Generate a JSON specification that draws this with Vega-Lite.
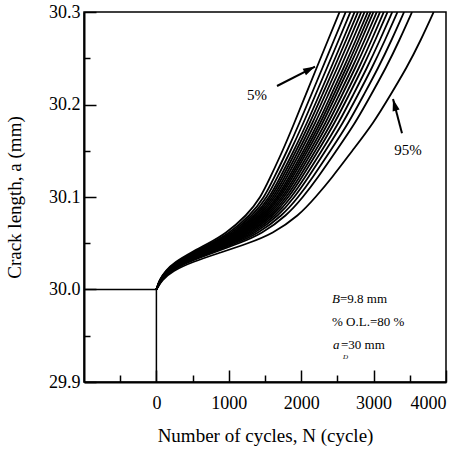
{
  "$schema": "https://vega.github.io/schema/vega-lite/v6.json",
  "width": 362,
  "height": 370,
  "autosize": "none",
  "padding": {"left": 84, "top": 12, "right": 18, "bottom": 69},
  "config": {
    "view": {"stroke": "black", "strokeWidth": 1.5},
    "axis": {"grid": false, "domainColor": "black", "domainWidth": 2, "tickColor": "black", "tickWidth": 1.5,
      "labelFont": "Liberation Serif", "titleFont": "Liberation Serif", "labelFontSize": 18, "titleFontSize": 19,
      "labelColor": "black", "titleColor": "black", "titleFontWeight": "normal"},
    "text": {"font": "Liberation Serif", "color": "black"}
  },
  "layer": [
    {
      "data": {"values": [
        {"p":5,"a":30.00,"N":0},{"p":5,"a":30.01,"N":40},{"p":5,"a":30.02,"N":120},{"p":5,"a":30.03,"N":260},{"p":5,"a":30.04,"N":480},{"p":5,"a":30.05,"N":720},{"p":5,"a":30.06,"N":950},{"p":5,"a":30.08,"N":1250},{"p":5,"a":30.10,"N":1444},{"p":5,"a":30.12,"N":1565},{"p":5,"a":30.15,"N":1745},{"p":5,"a":30.18,"N":1905},{"p":5,"a":30.21,"N":2060},{"p":5,"a":30.24,"N":2215},{"p":5,"a":30.27,"N":2372},{"p":5,"a":30.30,"N":2530},
        {"p":10,"a":30.00,"N":0},{"p":10,"a":30.01,"N":42},{"p":10,"a":30.02,"N":127},{"p":10,"a":30.03,"N":276},{"p":10,"a":30.04,"N":507},{"p":10,"a":30.05,"N":756},{"p":10,"a":30.06,"N":992},{"p":10,"a":30.08,"N":1297},{"p":10,"a":30.10,"N":1493},{"p":10,"a":30.12,"N":1620},{"p":10,"a":30.15,"N":1807},{"p":10,"a":30.18,"N":1976},{"p":10,"a":30.21,"N":2136},{"p":10,"a":30.24,"N":2296},{"p":10,"a":30.27,"N":2455},{"p":10,"a":30.30,"N":2615},
        {"p":15,"a":30.00,"N":0},{"p":15,"a":30.01,"N":44},{"p":15,"a":30.02,"N":132},{"p":15,"a":30.03,"N":288},{"p":15,"a":30.04,"N":527},{"p":15,"a":30.05,"N":783},{"p":15,"a":30.06,"N":1025},{"p":15,"a":30.08,"N":1333},{"p":15,"a":30.10,"N":1531},{"p":15,"a":30.12,"N":1663},{"p":15,"a":30.15,"N":1855},{"p":15,"a":30.18,"N":2031},{"p":15,"a":30.21,"N":2195},{"p":15,"a":30.24,"N":2358},{"p":15,"a":30.27,"N":2520},{"p":15,"a":30.30,"N":2680},
        {"p":20,"a":30.00,"N":0},{"p":20,"a":30.01,"N":46},{"p":20,"a":30.02,"N":136},{"p":20,"a":30.03,"N":298},{"p":20,"a":30.04,"N":546},{"p":20,"a":30.05,"N":808},{"p":20,"a":30.06,"N":1054},{"p":20,"a":30.08,"N":1365},{"p":20,"a":30.10,"N":1565},{"p":20,"a":30.12,"N":1701},{"p":20,"a":30.15,"N":1899},{"p":20,"a":30.18,"N":2080},{"p":20,"a":30.21,"N":2247},{"p":20,"a":30.24,"N":2414},{"p":20,"a":30.27,"N":2577},{"p":20,"a":30.30,"N":2738},
        {"p":25,"a":30.00,"N":0},{"p":25,"a":30.01,"N":47},{"p":25,"a":30.02,"N":140},{"p":25,"a":30.03,"N":307},{"p":25,"a":30.04,"N":560},{"p":25,"a":30.05,"N":827},{"p":25,"a":30.06,"N":1077},{"p":25,"a":30.08,"N":1390},{"p":25,"a":30.10,"N":1591},{"p":25,"a":30.12,"N":1731},{"p":25,"a":30.15,"N":1932},{"p":25,"a":30.18,"N":2119},{"p":25,"a":30.21,"N":2288},{"p":25,"a":30.24,"N":2458},{"p":25,"a":30.27,"N":2622},{"p":25,"a":30.30,"N":2784},
        {"p":30,"a":30.00,"N":0},{"p":30,"a":30.01,"N":48},{"p":30,"a":30.02,"N":143},{"p":30,"a":30.03,"N":315},{"p":30,"a":30.04,"N":574},{"p":30,"a":30.05,"N":847},{"p":30,"a":30.06,"N":1100},{"p":30,"a":30.08,"N":1416},{"p":30,"a":30.10,"N":1618},{"p":30,"a":30.12,"N":1761},{"p":30,"a":30.15,"N":1966},{"p":30,"a":30.18,"N":2157},{"p":30,"a":30.21,"N":2329},{"p":30,"a":30.24,"N":2501},{"p":30,"a":30.27,"N":2667},{"p":30,"a":30.30,"N":2829},
        {"p":35,"a":30.00,"N":0},{"p":35,"a":30.01,"N":49},{"p":35,"a":30.02,"N":147},{"p":35,"a":30.03,"N":324},{"p":35,"a":30.04,"N":589},{"p":35,"a":30.05,"N":866},{"p":35,"a":30.06,"N":1122},{"p":35,"a":30.08,"N":1441},{"p":35,"a":30.10,"N":1644},{"p":35,"a":30.12,"N":1791},{"p":35,"a":30.15,"N":1999},{"p":35,"a":30.18,"N":2195},{"p":35,"a":30.21,"N":2370},{"p":35,"a":30.24,"N":2545},{"p":35,"a":30.27,"N":2712},{"p":35,"a":30.30,"N":2875},
        {"p":40,"a":30.00,"N":0},{"p":40,"a":30.01,"N":51},{"p":40,"a":30.02,"N":150},{"p":40,"a":30.03,"N":332},{"p":40,"a":30.04,"N":603},{"p":40,"a":30.05,"N":885},{"p":40,"a":30.06,"N":1145},{"p":40,"a":30.08,"N":1466},{"p":40,"a":30.10,"N":1671},{"p":40,"a":30.12,"N":1821},{"p":40,"a":30.15,"N":2033},{"p":40,"a":30.18,"N":2234},{"p":40,"a":30.21,"N":2411},{"p":40,"a":30.24,"N":2589},{"p":40,"a":30.27,"N":2757},{"p":40,"a":30.30,"N":2920},
        {"p":45,"a":30.00,"N":0},{"p":45,"a":30.01,"N":52},{"p":45,"a":30.02,"N":153},{"p":45,"a":30.03,"N":339},{"p":45,"a":30.04,"N":615},{"p":45,"a":30.05,"N":902},{"p":45,"a":30.06,"N":1165},{"p":45,"a":30.08,"N":1488},{"p":45,"a":30.10,"N":1693},{"p":45,"a":30.12,"N":1846},{"p":45,"a":30.15,"N":2062},{"p":45,"a":30.18,"N":2266},{"p":45,"a":30.21,"N":2446},{"p":45,"a":30.24,"N":2626},{"p":45,"a":30.27,"N":2795},{"p":45,"a":30.30,"N":2959},
        {"p":50,"a":30.00,"N":0},{"p":50,"a":30.01,"N":53},{"p":50,"a":30.02,"N":156},{"p":50,"a":30.03,"N":346},{"p":50,"a":30.04,"N":628},{"p":50,"a":30.05,"N":918},{"p":50,"a":30.06,"N":1184},{"p":50,"a":30.08,"N":1509},{"p":50,"a":30.10,"N":1716},{"p":50,"a":30.12,"N":1872},{"p":50,"a":30.15,"N":2091},{"p":50,"a":30.18,"N":2299},{"p":50,"a":30.21,"N":2481},{"p":50,"a":30.24,"N":2663},{"p":50,"a":30.27,"N":2834},{"p":50,"a":30.30,"N":2998},
        {"p":55,"a":30.00,"N":0},{"p":55,"a":30.01,"N":54},{"p":55,"a":30.02,"N":160},{"p":55,"a":30.03,"N":355},{"p":55,"a":30.04,"N":642},{"p":55,"a":30.05,"N":937},{"p":55,"a":30.06,"N":1207},{"p":55,"a":30.08,"N":1534},{"p":55,"a":30.10,"N":1743},{"p":55,"a":30.12,"N":1902},{"p":55,"a":30.15,"N":2124},{"p":55,"a":30.18,"N":2338},{"p":55,"a":30.21,"N":2522},{"p":55,"a":30.24,"N":2707},{"p":55,"a":30.27,"N":2879},{"p":55,"a":30.30,"N":3044},
        {"p":60,"a":30.00,"N":0},{"p":60,"a":30.01,"N":55},{"p":60,"a":30.02,"N":163},{"p":60,"a":30.03,"N":363},{"p":60,"a":30.04,"N":656},{"p":60,"a":30.05,"N":957},{"p":60,"a":30.06,"N":1230},{"p":60,"a":30.08,"N":1560},{"p":60,"a":30.10,"N":1769},{"p":60,"a":30.12,"N":1931},{"p":60,"a":30.15,"N":2158},{"p":60,"a":30.18,"N":2376},{"p":60,"a":30.21,"N":2563},{"p":60,"a":30.24,"N":2750},{"p":60,"a":30.27,"N":2924},{"p":60,"a":30.30,"N":3089},
        {"p":65,"a":30.00,"N":0},{"p":65,"a":30.01,"N":56},{"p":65,"a":30.02,"N":167},{"p":65,"a":30.03,"N":373},{"p":65,"a":30.04,"N":673},{"p":65,"a":30.05,"N":979},{"p":65,"a":30.06,"N":1256},{"p":65,"a":30.08,"N":1588},{"p":65,"a":30.10,"N":1799},{"p":65,"a":30.12,"N":1965},{"p":65,"a":30.15,"N":2196},{"p":65,"a":30.18,"N":2420},{"p":65,"a":30.21,"N":2610},{"p":65,"a":30.24,"N":2800},{"p":65,"a":30.27,"N":2975},{"p":65,"a":30.30,"N":3141},
        {"p":70,"a":30.00,"N":0},{"p":70,"a":30.01,"N":58},{"p":70,"a":30.02,"N":171},{"p":70,"a":30.03,"N":382},{"p":70,"a":30.04,"N":689},{"p":70,"a":30.05,"N":1001},{"p":70,"a":30.06,"N":1282},{"p":70,"a":30.08,"N":1617},{"p":70,"a":30.10,"N":1830},{"p":70,"a":30.12,"N":2000},{"p":70,"a":30.15,"N":2235},{"p":70,"a":30.18,"N":2463},{"p":70,"a":30.21,"N":2657},{"p":70,"a":30.24,"N":2850},{"p":70,"a":30.27,"N":3026},{"p":70,"a":30.30,"N":3193},
        {"p":75,"a":30.00,"N":0},{"p":75,"a":30.01,"N":60},{"p":75,"a":30.02,"N":176},{"p":75,"a":30.03,"N":394},{"p":75,"a":30.04,"N":710},{"p":75,"a":30.05,"N":1028},{"p":75,"a":30.06,"N":1314},{"p":75,"a":30.08,"N":1653},{"p":75,"a":30.10,"N":1867},{"p":75,"a":30.12,"N":2042},{"p":75,"a":30.15,"N":2283},{"p":75,"a":30.18,"N":2518},{"p":75,"a":30.21,"N":2715},{"p":75,"a":30.24,"N":2912},{"p":75,"a":30.27,"N":3090},{"p":75,"a":30.30,"N":3258},
        {"p":80,"a":30.00,"N":0},{"p":80,"a":30.01,"N":62},{"p":80,"a":30.02,"N":182},{"p":80,"a":30.03,"N":408},{"p":80,"a":30.04,"N":732},{"p":80,"a":30.05,"N":1058},{"p":80,"a":30.06,"N":1350},{"p":80,"a":30.08,"N":1693},{"p":80,"a":30.10,"N":1909},{"p":80,"a":30.12,"N":2089},{"p":80,"a":30.15,"N":2335},{"p":80,"a":30.18,"N":2578},{"p":80,"a":30.21,"N":2780},{"p":80,"a":30.24,"N":2981},{"p":80,"a":30.27,"N":3161},{"p":80,"a":30.30,"N":3330},
        {"p":85,"a":30.00,"N":0},{"p":85,"a":30.01,"N":64},{"p":85,"a":30.02,"N":189},{"p":85,"a":30.03,"N":424},{"p":85,"a":30.04,"N":761},{"p":85,"a":30.05,"N":1097},{"p":85,"a":30.06,"N":1395},{"p":85,"a":30.08,"N":1743},{"p":85,"a":30.10,"N":1962},{"p":85,"a":30.12,"N":2149},{"p":85,"a":30.15,"N":2403},{"p":85,"a":30.18,"N":2655},{"p":85,"a":30.21,"N":2861},{"p":85,"a":30.24,"N":3068},{"p":85,"a":30.27,"N":3251},{"p":85,"a":30.30,"N":3421},
        {"p":90,"a":30.00,"N":0},{"p":90,"a":30.01,"N":67},{"p":90,"a":30.02,"N":197},{"p":90,"a":30.03,"N":445},{"p":90,"a":30.04,"N":796},{"p":90,"a":30.05,"N":1144},{"p":90,"a":30.06,"N":1451},{"p":90,"a":30.08,"N":1804},{"p":90,"a":30.10,"N":2026},{"p":90,"a":30.12,"N":2221},{"p":90,"a":30.15,"N":2484},{"p":90,"a":30.18,"N":2748},{"p":90,"a":30.21,"N":2961},{"p":90,"a":30.24,"N":3174},{"p":90,"a":30.27,"N":3360},{"p":90,"a":30.30,"N":3531},
        {"p":95,"a":30.00,"N":0},{"p":95,"a":30.01,"N":75},{"p":95,"a":30.02,"N":220},{"p":95,"a":30.03,"N":500},{"p":95,"a":30.04,"N":890},{"p":95,"a":30.05,"N":1270},{"p":95,"a":30.06,"N":1600},{"p":95,"a":30.08,"N":1970},{"p":95,"a":30.10,"N":2200},{"p":95,"a":30.12,"N":2417},{"p":95,"a":30.15,"N":2705},{"p":95,"a":30.18,"N":3000},{"p":95,"a":30.21,"N":3230},{"p":95,"a":30.24,"N":3460},{"p":95,"a":30.27,"N":3655},{"p":95,"a":30.30,"N":3830}
      ]},
      "mark": {"type": "line", "color": "black", "strokeWidth": 1.8, "interpolate": "basis", "clip": true},
      "encoding": {
        "x": {"field": "N", "type": "quantitative", "scale": {"domain": [-1000, 4000], "nice": false, "zero": false},
          "axis": {"orient": "bottom", "values": [0, 1000, 2000, 3000, 4000], "format": "d", "tickSize": -12, "labelPadding": 24, "titlePadding": 14, "title": "Number of cycles, N (cycle)"}},
        "y": {"field": "a", "type": "quantitative", "scale": {"domain": [29.9, 30.3], "nice": false, "zero": false},
          "axis": {"orient": "left", "values": [29.9, 30.0, 30.1, 30.2, 30.3], "format": ".1f", "tickSize": -12, "labelPadding": 16, "titlePadding": 24, "title": "Crack length, a (mm)"}},
        "detail": {"field": "p", "type": "nominal"},
        "order": {"field": "a", "type": "quantitative"}
      }
    },
    {
      "data": {"values": [{"k": 1, "N": -1000, "a": 30.0}, {"k": 2, "N": 0, "a": 30.0}, {"k": 3, "N": 0, "a": 29.9}]},
      "mark": {"type": "line", "color": "black", "strokeWidth": 1.5},
      "encoding": {
        "x": {"field": "N", "type": "quantitative", "axis": {"orient": "bottom", "values": [-500, 500, 1500, 2500, 3500], "tickSize": -7, "labels": false, "domain": false, "title": null}},
        "y": {"field": "a", "type": "quantitative", "axis": {"orient": "left", "values": [29.95, 30.05, 30.15, 30.25], "tickSize": -6, "labels": false, "domain": false, "title": null}},
        "order": {"field": "k", "type": "quantitative"}
      }
    },
    {
      "data": {"values": [{"N": 1666, "a": 30.220, "N2": 2191, "a2": 30.241}]},
      "mark": {"type": "rule", "color": "black", "strokeWidth": 2},
      "encoding": {
        "x": {"field": "N", "type": "quantitative", "axis": null},
        "y": {"field": "a", "type": "quantitative", "axis": null},
        "x2": {"field": "N2"}, "y2": {"field": "a2"}
      }
    },
    {
      "data": {"values": [{"N": 3392, "a": 30.169, "N2": 3268, "a2": 30.206}]},
      "mark": {"type": "rule", "color": "black", "strokeWidth": 2},
      "encoding": {
        "x": {"field": "N", "type": "quantitative", "axis": null},
        "y": {"field": "a", "type": "quantitative", "axis": null},
        "x2": {"field": "N2"}, "y2": {"field": "a2"}
      }
    },
    {
      "data": {"values": [{"N": 2191, "a": 30.241}]},
      "mark": {"type": "point", "shape": "M0,0L-0.6,2L0.6,2Z", "size": 144, "filled": true, "color": "black", "opacity": 1, "angle": 63},
      "encoding": {
        "x": {"field": "N", "type": "quantitative", "axis": null},
        "y": {"field": "a", "type": "quantitative", "axis": null}
      }
    },
    {
      "data": {"values": [{"N": 3268, "a": 30.206}]},
      "mark": {"type": "point", "shape": "M0,0L-0.6,2L0.6,2Z", "size": 144, "filled": true, "color": "black", "opacity": 1, "angle": 345},
      "encoding": {
        "x": {"field": "N", "type": "quantitative", "axis": null},
        "y": {"field": "a", "type": "quantitative", "axis": null}
      }
    },
    {
      "data": {"values": [{"N": 1390, "a": 30.210, "t": "5%"}, {"N": 3475, "a": 30.151, "t": "95%"}]},
      "mark": {"type": "text", "fontSize": 15, "align": "center", "baseline": "middle"},
      "encoding": {
        "x": {"field": "N", "type": "quantitative", "axis": null},
        "y": {"field": "a", "type": "quantitative", "axis": null},
        "text": {"field": "t"}
      }
    },
    {
      "data": {"values": [{"N": 2536, "a": 29.990, "t": "=9.8 mm"}, {"N": 2425, "a": 29.965, "t": "% O.L.=80 %"}, {"N": 2550, "a": 29.940, "t": "=30 mm"}]},
      "mark": {"type": "text", "fontSize": 13, "align": "left", "baseline": "middle"},
      "encoding": {
        "x": {"field": "N", "type": "quantitative", "axis": null},
        "y": {"field": "a", "type": "quantitative", "axis": null},
        "text": {"field": "t"}
      }
    },
    {
      "data": {"values": [{"N": 2425, "a": 29.990, "t": "B"}, {"N": 2439, "a": 29.940, "t": "a"}]},
      "mark": {"type": "text", "fontSize": 13, "fontStyle": "italic", "align": "left", "baseline": "middle"},
      "encoding": {
        "x": {"field": "N", "type": "quantitative", "axis": null},
        "y": {"field": "a", "type": "quantitative", "axis": null},
        "text": {"field": "t"}
      }
    },
    {
      "data": {"values": [{"N": 2577, "a": 29.927, "t": "D"}]},
      "mark": {"type": "text", "fontSize": 7, "fontStyle": "italic", "align": "left", "baseline": "middle"},
      "encoding": {
        "x": {"field": "N", "type": "quantitative", "axis": null},
        "y": {"field": "a", "type": "quantitative", "axis": null},
        "text": {"field": "t"}
      }
    }
  ],
  "resolve": {"axis": {"x": "independent", "y": "independent"}}
}
